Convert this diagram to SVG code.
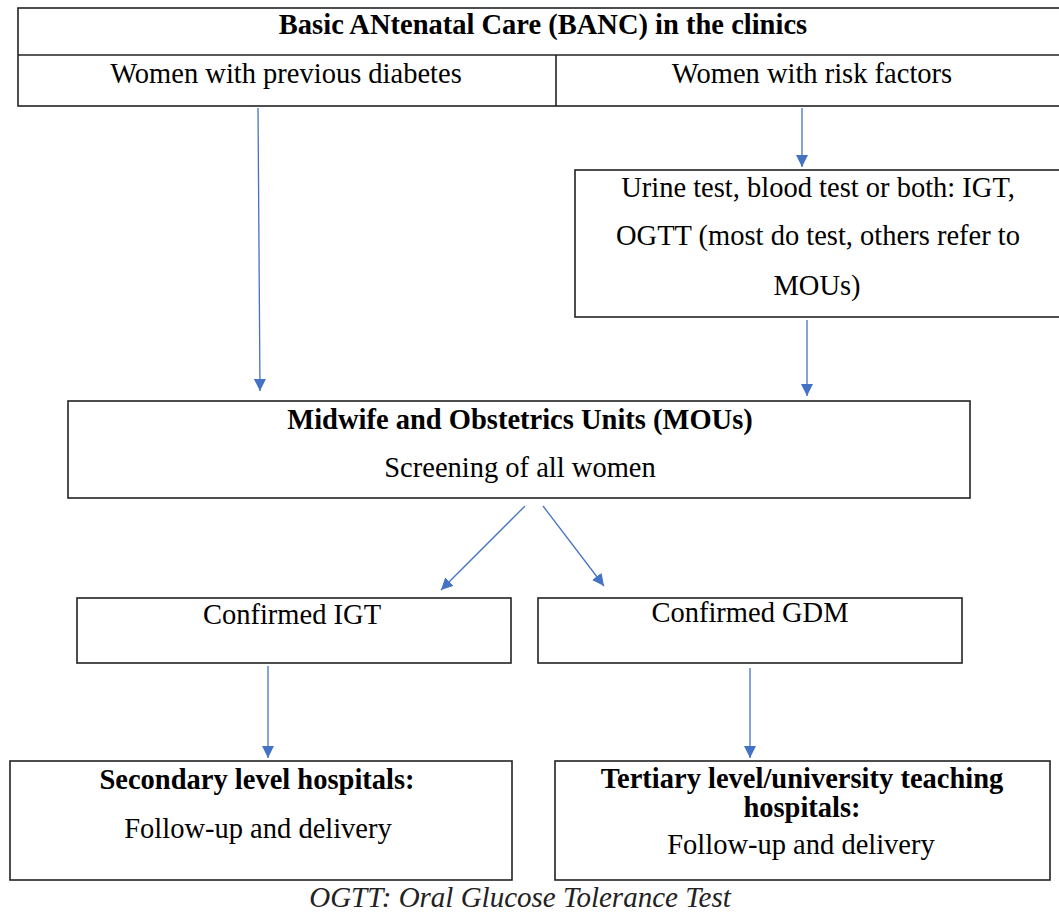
<svg xmlns="http://www.w3.org/2000/svg" width="1059" height="913" viewBox="0 0 1059 913">
  <style>
    .box { fill: #ffffff; stroke: #222222; stroke-width: 1.6; }
    .t { font-family: "Liberation Serif", "Times New Roman", serif; font-size: 28.5px; fill: #000; text-anchor: middle; }
    .b { font-weight: bold; }
    .cap { font-family: "Liberation Serif", "Times New Roman", serif; font-size: 29px; font-style: italic; fill: #222; text-anchor: middle; }
    .arrow { stroke: #4472C4; stroke-width: 1.3; fill: none; marker-end: url(#head); }
  </style>
  <defs>
    <marker id="head" viewBox="0 0 10 10" refX="10" refY="5" markerWidth="12" markerHeight="12" markerUnits="userSpaceOnUse" orient="auto">
      <path d="M0,0 L10,5 L0,10 z" fill="#4472C4"/>
    </marker>
  </defs>
  <rect width="1059" height="913" fill="#ffffff"/>

  <g id="banc">
    <rect class="box" x="18" y="8" width="1050" height="98"/>
    <line x1="18" y1="55" x2="1068" y2="55" stroke="#222" stroke-width="1.6"/>
    <line x1="556" y1="55" x2="556" y2="106" stroke="#222" stroke-width="1.6"/>
    <text class="t b" x="543" y="34">Basic ANtenatal Care (BANC) in the clinics</text>
  </g>
  <g id="previous-diabetes">
    <text class="t" x="286" y="83">Women with previous diabetes</text>
  </g>
  <g id="risk-factors">
    <text class="t" x="812" y="83">Women with risk factors</text>
  </g>

  <g id="tests">
    <rect class="box" x="575" y="170" width="495" height="147"/>
    <text class="t" x="818" y="197">Urine test, blood test or both: IGT,</text>
    <text class="t" x="818" y="245">OGTT (most do test, others refer to</text>
    <text class="t" x="817" y="295">MOUs)</text>
  </g>

  <g id="mou">
    <rect class="box" x="68" y="401" width="902" height="97"/>
    <text class="t b" x="520" y="429">Midwife and Obstetrics Units (MOUs)</text>
    <text class="t" x="520" y="477">Screening of all women</text>
  </g>

  <g id="igt">
    <rect class="box" x="77" y="598" width="434" height="65"/>
    <text class="t" x="292" y="624">Confirmed IGT</text>
  </g>
  <g id="gdm">
    <rect class="box" x="538" y="598" width="424" height="65"/>
    <text class="t" x="750" y="622">Confirmed GDM</text>
  </g>

  <g id="secondary">
    <rect class="box" x="10" y="761" width="502" height="119"/>
    <text class="t b" x="257" y="789">Secondary level hospitals:</text>
    <text class="t" x="258" y="838">Follow-up and delivery</text>
  </g>
  <g id="tertiary">
    <rect class="box" x="555" y="761" width="495" height="119"/>
    <text class="t b" x="802" y="788">Tertiary level/university teaching</text>
    <text class="t b" x="802" y="817">hospitals:</text>
    <text class="t" x="801" y="854">Follow-up and delivery</text>
  </g>

  <g id="connectors">
    <line class="arrow" x1="258" y1="108" x2="260" y2="391"/>
    <line class="arrow" x1="802" y1="108" x2="802" y2="167"/>
    <line class="arrow" x1="807" y1="320" x2="807" y2="396"/>
    <line class="arrow" x1="525" y1="506" x2="441" y2="590"/>
    <line class="arrow" x1="543" y1="506" x2="604" y2="586"/>
    <line class="arrow" x1="268" y1="666" x2="268" y2="758"/>
    <line class="arrow" x1="750" y1="668" x2="750" y2="758"/>
  </g>

  <text class="cap" x="520" y="907">OGTT: Oral Glucose Tolerance Test</text>
</svg>
